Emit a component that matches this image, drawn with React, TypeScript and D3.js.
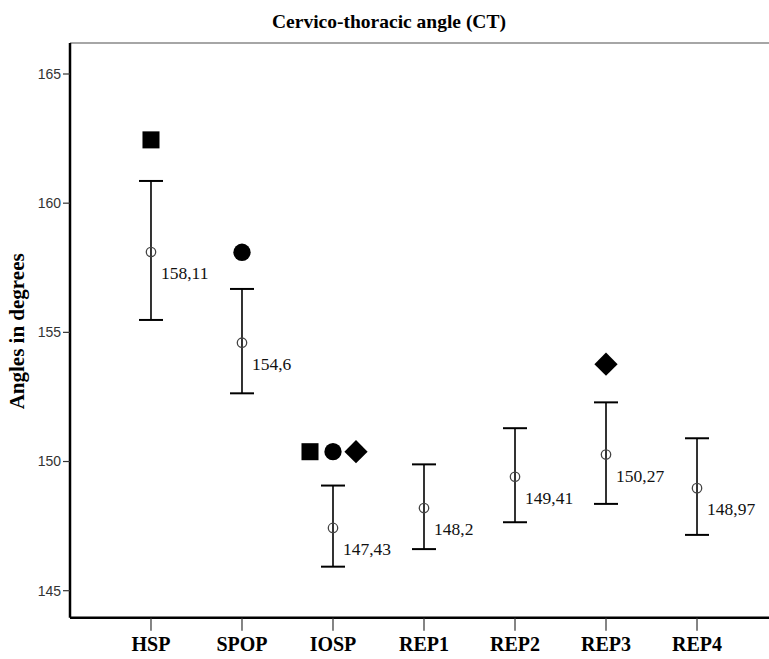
import React from "react";
import * as d3 from "d3";

const categories = ["HSP", "SPOP", "IOSP", "REP1", "REP2", "REP3", "REP4"];
const means = [158.11, 154.6, 147.43, 148.2, 149.41, 150.27, 148.97];
const upper = [160.86, 156.68, 149.07, 149.89, 151.29, 152.29, 150.9];
const lower = [155.48, 152.64, 145.93, 146.61, 147.65, 148.36, 147.16];
const meanLabels = ["158,11", "154,6", "147,43", "148,2", "149,41", "150,27", "148,97"];
const yTicks = [145, 150, 155, 160, 165];

const markerCats = ["HSP", "SPOP", "IOSP", "IOSP", "IOSP", "REP3"];
const markerShapes = ["square", "circle", "square", "circle", "diamond", "diamond"];
const markerValues = [162.45, 158.1, 150.38, 150.38, 150.38, 153.77];

const title = "Cervico-thoracic angle (CT)";
const yTitle = "Angles in degrees";

const W = 769;
const H = 659;
const left = 70;
const right = 778;
const top = 43;
const bottom = 617.7;

export default function App() {
  const x = d3.scalePoint<string>().domain(categories).range([left, right]).padding(0.89);
  const y = d3.scaleLinear().domain([145, 165]).range([590.7, 74]);

  const shapeSize: Record<string, number> = { square: 290, circle: 235, diamond: 270 };
  const shapeType: Record<string, d3.SymbolType> = {
    square: d3.symbolSquare,
    circle: d3.symbolCircle,
    diamond: d3.symbolSquare,
  };

  const markers = markerCats.map((c, i) => {
    const group = markerCats.map((cc, j) => ({ cc, j })).filter((d) => d.cc === c);
    const k = group.findIndex((d) => d.j === i);
    const off = (k - (group.length - 1) / 2) * 23;
    return { cx: (x(c) as number) + off, cy: y(markerValues[i]), shape: markerShapes[i] };
  });

  const serif = "'Liberation Serif', 'Times New Roman', serif";
  const sans = "'Liberation Sans', Arial, sans-serif";

  return (
    <svg width={W} height={H} style={{ position: "absolute", left: 0, top: 0, background: "#fff" }}>
      <rect x={0} y={0} width={W} height={H} fill="#fff" />
      <text x={389} y={28} textAnchor="middle" fontFamily={serif} fontWeight="bold" fontSize={19.5} fill="#000">
        {title}
      </text>
      {/* frame */}
      <line x1={left} x2={right} y1={top} y2={top} stroke="#888" strokeWidth={1.5} />
      <line x1={left} x2={left} y1={top} y2={bottom} stroke="#000" strokeWidth={2.5} />
      <line x1={left} x2={right} y1={bottom} y2={bottom} stroke="#000" strokeWidth={2.5} />
      {/* y ticks */}
      {yTicks.map((t) => (
        <g key={t}>
          <line x1={left - 7} x2={left} y1={y(t)} y2={y(t)} stroke="#333" strokeWidth={1.2} />
          <text x={left - 9} y={y(t)} dy="0.35em" textAnchor="end" fontFamily={sans} fontSize={14} fill="#333">
            {t}
          </text>
        </g>
      ))}
      <text
        transform={`translate(24,${(top + bottom) / 2 + 1}) rotate(-90)`}
        textAnchor="middle"
        fontFamily={serif}
        fontWeight="bold"
        fontSize={21}
        fill="#000"
      >
        {yTitle}
      </text>
      {/* x ticks */}
      {categories.map((c) => (
        <g key={c}>
          <line x1={x(c)} x2={x(c)} y1={bottom} y2={bottom + 13} stroke="#333" strokeWidth={1.2} />
          <text x={x(c)} y={651} textAnchor="middle" fontFamily={serif} fontWeight="bold" fontSize={20} fill="#000">
            {c}
          </text>
        </g>
      ))}
      {/* error bars */}
      {categories.map((c, i) => {
        const cx = x(c) as number;
        return (
          <g key={c}>
            <line x1={cx} x2={cx} y1={y(upper[i])} y2={y(lower[i])} stroke="#000" strokeWidth={1.6} />
            <line x1={cx - 12} x2={cx + 12} y1={y(upper[i])} y2={y(upper[i])} stroke="#000" strokeWidth={2} />
            <line x1={cx - 12} x2={cx + 12} y1={y(lower[i])} y2={y(lower[i])} stroke="#000" strokeWidth={2} />
            <circle cx={cx} cy={y(means[i])} r={4.7} fill="none" stroke="#444" strokeWidth={1.3} />
            <text x={cx + 10} y={y(means[i]) + 27} fontFamily={serif} fontSize={17.5} fill="#111">
              {meanLabels[i]}
            </text>
          </g>
        );
      })}
      {/* significance markers */}
      {markers.map((m, i) => (
        <path
          key={i}
          d={d3.symbol().type(shapeType[m.shape]).size(shapeSize[m.shape])() as string}
          transform={`translate(${m.cx},${m.cy})${m.shape === "diamond" ? " rotate(45)" : ""}`}
          fill="#000"
        />
      ))}
    </svg>
  );
}
